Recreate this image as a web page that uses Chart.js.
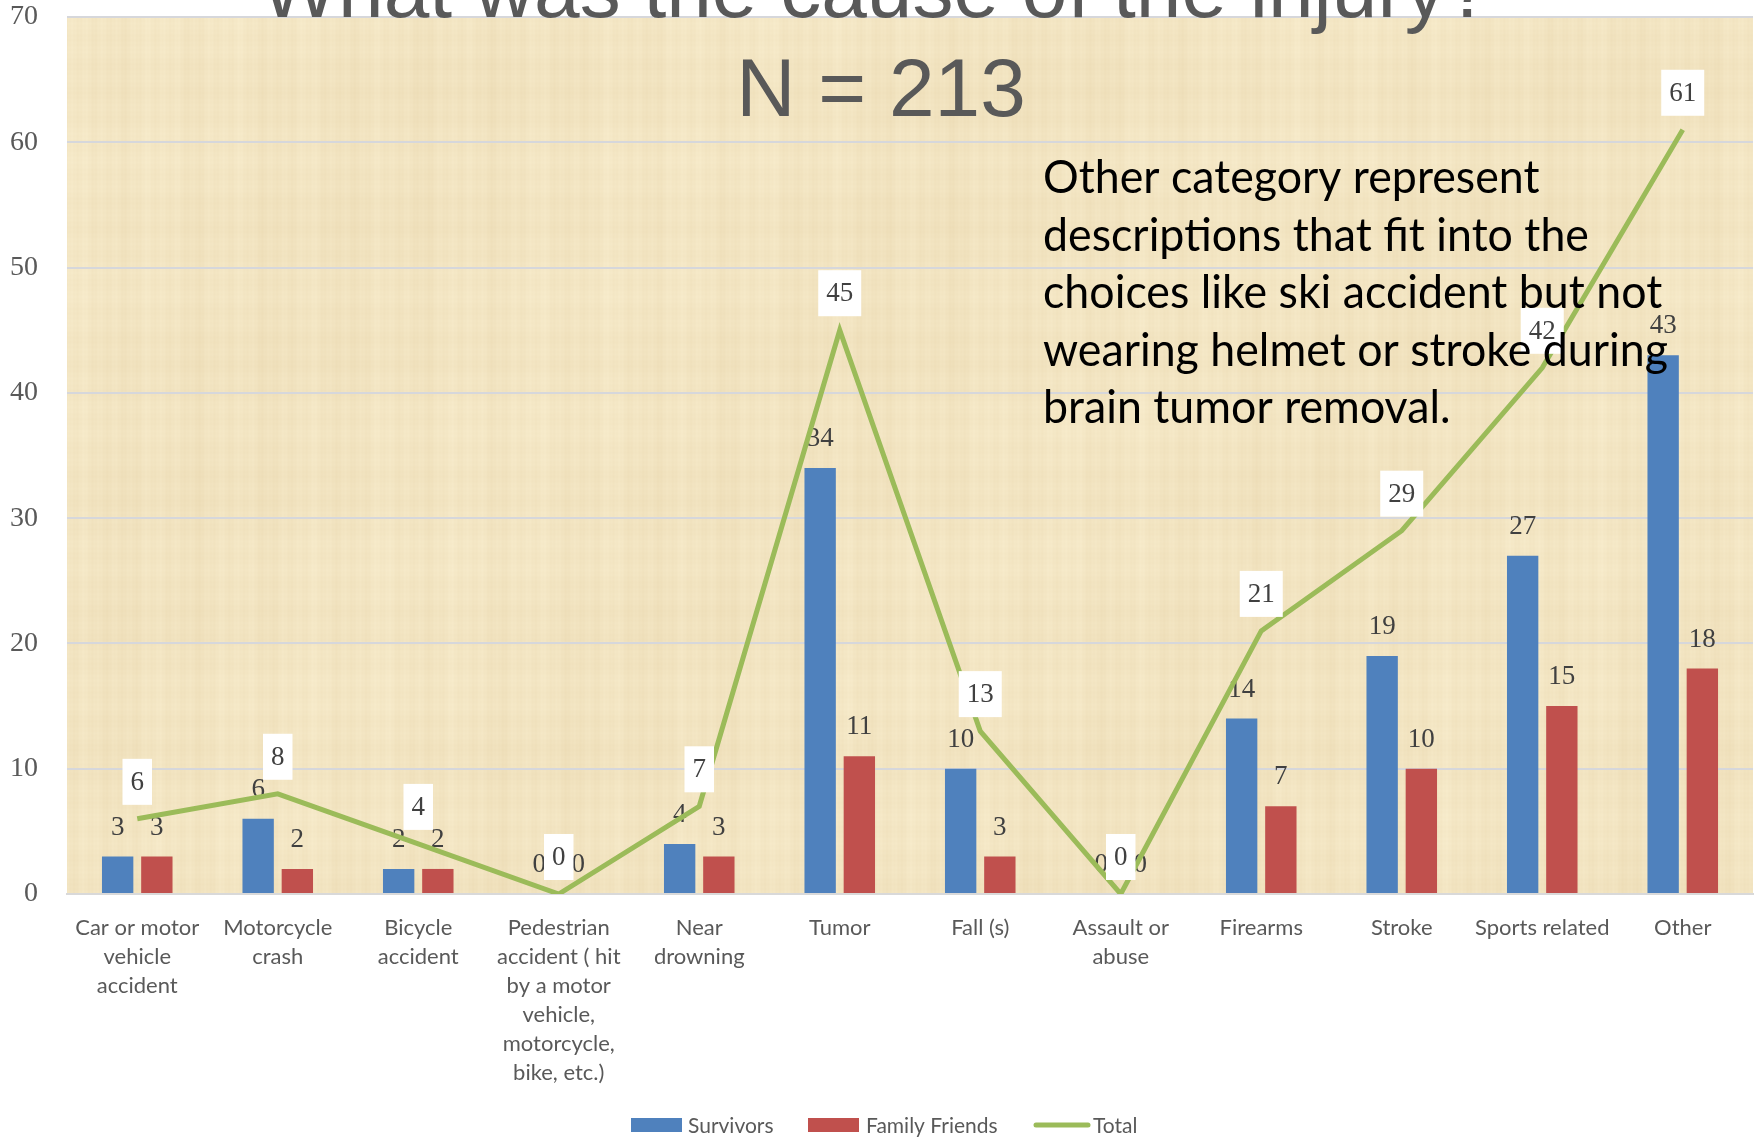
<!DOCTYPE html>
<html>
<head>
<meta charset="utf-8">
<script src="https://cdn.jsdelivr.net/npm/chart.js@4.4.0/dist/chart.umd.min.js"></script>
<style>
  html, body { margin: 0; padding: 0; background: #fff; }
  canvas { display: block; }
</style>
</head>
<body>
<canvas id="injuryChart" width="1759" height="1137"></canvas>
<script>
// data
const categories = [
  ["Car or motor", "vehicle", "accident"],
  ["Motorcycle", "crash"],
  ["Bicycle", "accident"],
  ["Pedestrian", "accident ( hit", "by a motor", "vehicle,", "motorcycle,", "bike, etc.)"],
  ["Near", "drowning"],
  "Tumor",
  "Fall (s)",
  ["Assault or", "abuse"],
  "Firearms",
  "Stroke",
  "Sports related",
  "Other"
]
const survivors     = [3, 6, 2, 0, 4, 34, 10, 0, 14, 19, 27, 43]
const familyFriends = [3, 2, 2, 0, 3, 11, 3, 0, 7, 10, 15, 18]
const totals        = [6, 8, 4, 0, 7, 45, 13, 0, 21, 29, 42, 61]
const yMin = 0, yMax = 70, yStep = 10

const titleLines = ["What was the cause of the injury?", "N = 213"]
const noteLines = [
  "Other category represent",
  "descriptions that fit into the",
  "choices like ski accident but not",
  "wearing helmet or stroke during",
  "brain tumor removal."
]
const legendNames = ["Survivors", "Family Friends", "Total"]

const BLUE = "#4F81BD", RED = "#C0504D", GREEN = "#9BBB59"

// parchment-ish fill behind the plot area (smooth sine streaks, no noise)
let paper = null
function makePaper(w, h){
  const c = document.createElement("canvas")
  c.width = w; c.height = h
  const g = c.getContext("2d")
  const img = g.createImageData(w, h)
  for (let y = 0; y < h; y++){
    const vy = 1.0*Math.sin(y*0.23) + 1.1*Math.sin(y*0.047 + 1.3) + 0.6*Math.sin(y*1.31)
    for (let x = 0; x < w; x++){
      const vx = 1.6*Math.sin(x*0.41 + 0.002*y) + 1.3*Math.sin(x*0.083 + 0.4) + 0.9*Math.sin(x*1.7)
        + 1.2*Math.sin(x*0.011 + y*0.007) + 0.8*Math.sin(x*0.19 - y*0.003)
      const d = vx + vy
      const i = (y*w + x)*4
      img.data[i]   = 242 + d*0.7
      img.data[i+1] = 228 + d
      img.data[i+2] = 193 + d*1.4
      img.data[i+3] = 255
    }
  }
  g.putImageData(img, 0, 0)
  return c
}

const backdrop = {
  id: "backdrop",
  beforeDraw(chart){
    const a = chart.chartArea
    const ctx = chart.ctx
    if (!paper) paper = makePaper(Math.round(a.right - a.left), Math.round(a.bottom - a.top))
    ctx.save()
    ctx.fillStyle = "#fff"
    ctx.fillRect(0, 0, chart.width, chart.height)
    ctx.drawImage(paper, a.left, a.top)
    ctx.restore()
  }
}

const valueLabels = {
  id: "valueLabels",
  afterDatasetDraw(chart, args){
    const ctx = chart.ctx
    const ds = chart.data.datasets[args.index]
    ctx.save()
    ctx.textAlign = "center"
    ctx.textBaseline = "middle"
    args.meta.data.forEach((el, i) => {
      const txt = String(ds.data[i])
      if (ds.type === "line"){
        ctx.font = '27px "Liberation Serif"'
        const w = ctx.measureText(txt).width + 16
        const cy = el.y - 37
        ctx.fillStyle = "#fff"
        ctx.fillRect(el.x - w/2, cy - 23, w, 46)
        ctx.fillStyle = "#404040"
        ctx.fillText(txt, el.x, cy + 1)
      } else {
        ctx.font = '27px "Liberation Serif"'
        ctx.fillStyle = "#404040"
        ctx.fillText(txt, el.x, el.y - 29)
      }
    })
    ctx.restore()
  }
}

const overlay = {
  id: "overlay",
  afterDraw(chart){
    const ctx = chart.ctx
    ctx.save()
    // title, partly cut off by the top edge like the slide
    ctx.fillStyle = "#595959"
    ctx.textAlign = "center"
    ctx.textBaseline = "alphabetic"
    ctx.font = '82px "Liberation Sans"'
    ctx.fillText(titleLines[0], 876, 17)
    ctx.fillText(titleLines[1], 881, 116)

    // note text
    ctx.textAlign = "left"
    ctx.fillStyle = "#000"
    ctx.font = '46px Lato'
    const widest = Math.max(...noteLines.map(l => ctx.measureText(l).width))
    const sx = 625 / widest
    noteLines.forEach((l, k) => {
      ctx.save()
      ctx.translate(1043, 193 + k*57.5)
      ctx.scale(sx, 1)
      ctx.fillText(l, 0, 0)
      ctx.restore()
    })

    // legend
    const ly = 1125
    ctx.font = '21px Lato'
    ctx.textBaseline = "middle"
    ctx.fillStyle = BLUE
    ctx.fillRect(631, ly - 7, 51, 14)
    ctx.fillStyle = RED
    ctx.fillRect(808, ly - 7, 51, 14)
    ctx.strokeStyle = GREEN
    ctx.lineWidth = 5
    ctx.lineCap = "round"
    ctx.beginPath()
    ctx.moveTo(1036, ly); ctx.lineTo(1088, ly)
    ctx.stroke()
    ctx.fillStyle = "#595959"
    ctx.fillText(legendNames[0], 688, ly + 1)
    ctx.fillText(legendNames[1], 866, ly + 1)
    ctx.fillText(legendNames[2], 1093, ly + 1)
    ctx.restore()
  }
}

new Chart(document.getElementById("injuryChart"), {
  type: "bar",
  data: {
    labels: categories,
    datasets: [
      {
        type: "bar",
        label: legendNames[0],
        data: survivors,
        backgroundColor: BLUE,
        categoryPercentage: 0.558,
        barPercentage: 0.8,
        order: 1
      },
      {
        type: "bar",
        label: legendNames[1],
        data: familyFriends,
        backgroundColor: RED,
        categoryPercentage: 0.558,
        barPercentage: 0.8,
        order: 1
      },
      {
        type: "line",
        label: legendNames[2],
        data: totals,
        borderColor: GREEN,
        borderWidth: 5,
        pointRadius: 0,
        tension: 0,
        fill: false,
        order: 0
      }
    ]
  },
  options: {
    responsive: false,
    animation: false,
    layout: { padding: { top: 17, right: 6, left: 0, bottom: 0 } },
    plugins: {
      legend: { display: false },
      title: { display: false },
      tooltip: { enabled: false }
    },
    scales: {
      x: {
        offset: true,
        grid: { display: false, drawTicks: false },
        border: { display: true, color: "#d9d9d9", width: 2 },
        ticks: {
          color: "#595959",
          font: { family: "Lato", size: 22, lineHeight: 1.32 },
          padding: 19,
          maxRotation: 0,
          autoSkip: false
        },
        afterFit(scale){ scale.height = 243 }
      },
      y: {
        min: yMin,
        max: yMax,
        grid: { color: "#d6d7db", lineWidth: 2, drawTicks: false },
        border: { display: false },
        ticks: {
          stepSize: yStep,
          color: "#595959",
          font: { family: "Liberation Serif", size: 28 },
          padding: 29
        },
        afterFit(scale){
          scale.width = 67
          scale.paddingTop = 15
          scale.paddingBottom = 15
        }
      }
    }
  },
  plugins: [backdrop, valueLabels, overlay]
})
</script>
</body>
</html>
